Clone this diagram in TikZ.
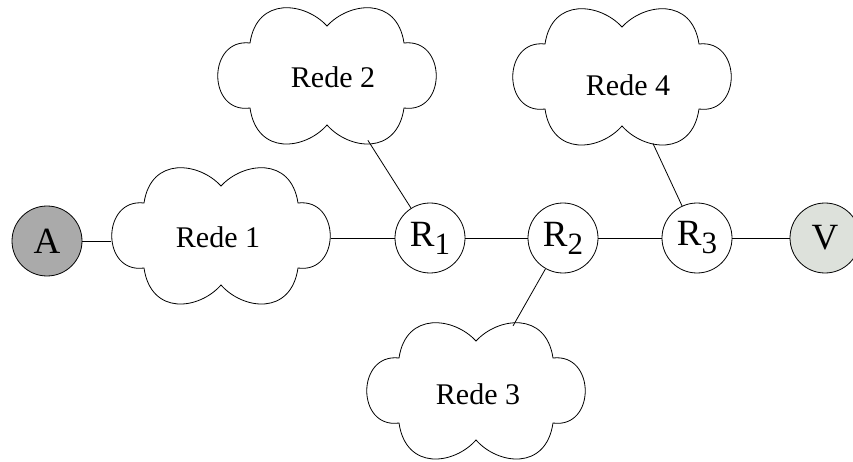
\documentclass[tikz,border=0pt]{standalone}
\usepackage{fontspec}
\setmainfont{Liberation Serif}
\usetikzlibrary{shapes.geometric}
\definecolor{agray}{HTML}{AAAAAA}
\definecolor{vgray}{HTML}{DDE1DB}
\tikzset{
  router/.style={circle,draw,line width=0.8pt,minimum size=70pt,inner sep=0pt,font=\fontsize{37}{37}\selectfont},
  redearea/.style={ellipse,minimum width=220pt,minimum height=138pt,inner sep=0pt},
  redelabel/.style={inner sep=0pt,font=\fontsize{30}{30}\selectfont},
  cloudline/.style={draw,fill=white,line width=0.8pt},
  link/.style={line width=0.8pt}
}
\newcommand{\Rsub}[1]{R\raisebox{-8pt}{\fontsize{31}{31}\selectfont #1}}
\newcommand{\cloudat}[1]{%
  \path[cloudline] ([shift={(0,-50)}]#1)
    .. controls ([shift={(22,-74)}]#1) and ([shift={(70,-80)}]#1) .. ([shift={(77,-33)}]#1)
    .. controls ([shift={(120,-38)}]#1) and ([shift={(120,38)}]#1) .. ([shift={(77,32)}]#1)
    .. controls ([shift={(70,80)}]#1) and ([shift={(22,74)}]#1) .. ([shift={(0,49)}]#1)
    .. controls ([shift={(-22,74)}]#1) and ([shift={(-70,80)}]#1) .. ([shift={(-77,32)}]#1)
    .. controls ([shift={(-120,38)}]#1) and ([shift={(-120,-38)}]#1) .. ([shift={(-77,-33)}]#1)
    .. controls ([shift={(-70,-80)}]#1) and ([shift={(-22,-74)}]#1) .. cycle;}
\begin{document}
\begin{tikzpicture}[x=1pt,y=-1pt]
\useasboundingbox (0,0) rectangle (853,462);
\node[redearea] (r1) at (221,236) {};
\node[redearea] (r2) at (327,76) {};
\node[redearea] (r4) at (622,77) {};
\node[redearea] (r3) at (476,391) {};
\cloudat{r1.center}
\cloudat{r2.center}
\cloudat{r4.center}
\cloudat{r3.center}
\node[redelabel] (t1) at (218,237) {Rede 1};
\node[redelabel] (t2) at (333,77) {Rede 2};
\node[redelabel] (t4) at (628,85) {Rede 4};
\node[redelabel] (t3) at (478,394) {Rede 3};
\node[router,fill=agray] (A) at (47,241) {A};
\node[router] (R1) at (430,238) {\Rsub{1}};
\node[router] (R2) at (563,238) {\Rsub{2}};
\node[router] (R3) at (697,238) {\Rsub{3}};
\node[router,fill=vgray] (V) at (825,238) {V};
\draw[link] (A) -- (A -| r1.west);
\draw[link] (r1.east |- R1) -- (R1);
\draw[link] (R1) -- (R2);
\draw[link] (R2) -- (R3);
\draw[link] (R3) -- (V);
\draw[link] (r2) -- (R1);
\draw[link] (r4) -- (R3);
\draw[link] (R2) -- (r3);
\end{tikzpicture}
\end{document}
